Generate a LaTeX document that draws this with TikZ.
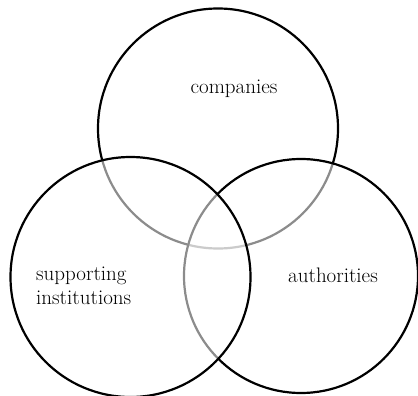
\documentclass[tikz,border=0pt]{standalone}
\usepackage{tikz}
\usetikzlibrary{positioning}

\tikzset{
	setcircle/.style={line width=2.2pt,draw=black,fill=white,fill opacity=0.55,draw opacity=1},
	setlabel/.style={font=\fontsize{21}{24}\selectfont,align=left,inner sep=0pt}
}

\begin{document}
\begin{tikzpicture}[x=1pt,y=-1pt]
	\useasboundingbox (0,0) rectangle (418,396);
	\draw[setcircle] (218,128.5) circle (120pt);
	\draw[setcircle] (301,276) circle (117pt);
	\draw[setcircle] (130.5,277) circle (120pt);
	\node[setlabel] (companies) at (234,89) {companies};
	\node[setlabel,anchor=west] (institutions) at (36,286) {supporting\\institutions};
	\node[setlabel] (authorities) at (333,275) {authorities};
\end{tikzpicture}
\end{document}
